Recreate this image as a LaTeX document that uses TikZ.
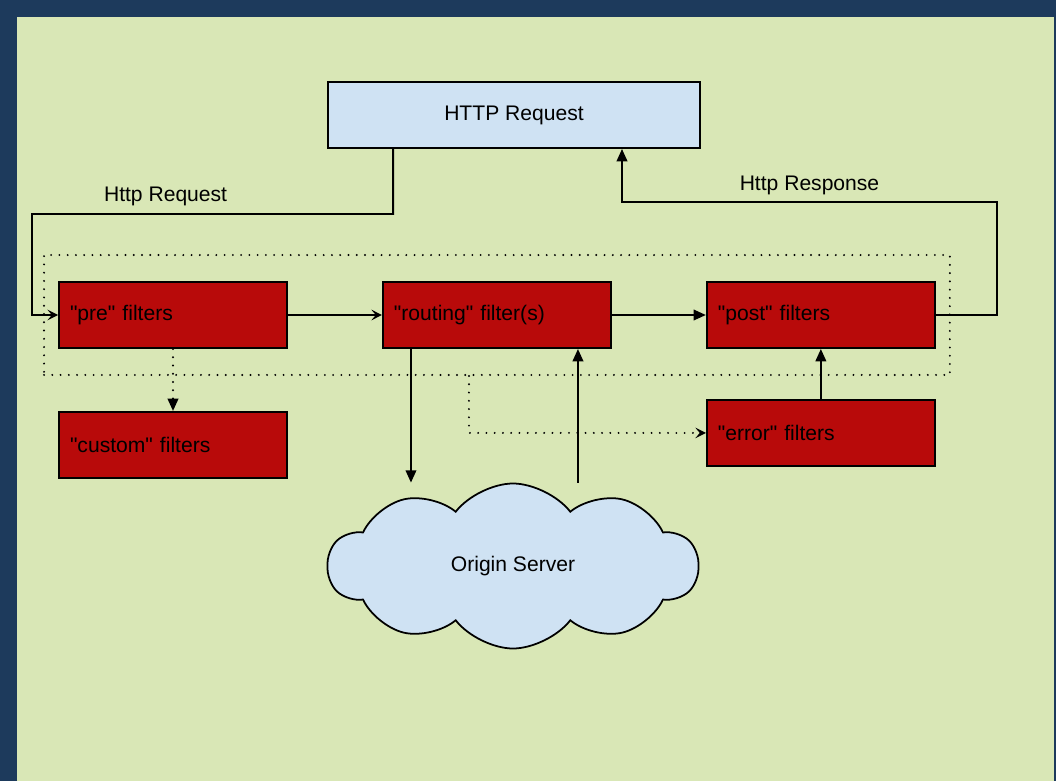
\documentclass[tikz,border=0pt]{standalone}
\usepackage{fontspec}
\setmainfont{Liberation Sans}
\usepackage{tikz}
\usetikzlibrary{positioning}
\usetikzlibrary{calc}
\usetikzlibrary{arrows.meta}
\usetikzlibrary{fit}
\usetikzlibrary{shapes.symbols}
\definecolor{slate}{RGB}{29,58,92}
\definecolor{paper}{RGB}{217,231,182}
\definecolor{sky}{RGB}{207,226,243}
\definecolor{blood}{RGB}{184,10,10}
\newcommand{\dq}{\textquotedbl}

\tikzset{
  filterbox/.style={draw=black, line width=1.1pt, fill=blood, minimum width=4.56cm, minimum height=1.32cm,
    text width=4.12cm, align=left, inner xsep=0.22cm},
  wire/.style={line width=1.1pt},
  dots/.style={line width=1.2pt, dash pattern=on 0pt off 4.7pt, line cap=round},
  full/.style={-{Triangle[length=7pt,width=6pt]}},
  barb/.style={-{Stealth[length=6pt,width=6pt,inset=2.5pt]}}
}

\begin{document}
\begin{tikzpicture}[font=\fontsize{12}{14}\selectfont]
        % background %
        \fill[slate] (0,0) rectangle (21.12,-15.62);
        \fill[paper] (0.34,-0.34) rectangle (21.08,-15.62);

        % nodes %
        \node[draw=black, line width=1.1pt, fill=sky, minimum width=7.44cm, minimum height=1.32cm] (http) at (10.28,-2.30) {HTTP Request};
        \node[filterbox] (pre) at (3.46,-6.30) {\dq pre\dq{} filters};
        \node[filterbox, right=1.88 of pre] (routing) {\dq routing\dq{} filter(s)};
        \node[filterbox, right=1.88 of routing] (post) {\dq post\dq{} filters};
        \node[filterbox, below=1.24 of pre] (custom) {\dq custom\dq{} filters};
        \node[filterbox, below=1.0 of post] (error) {\dq error\dq{} filters};
        \node[cloud, cloud puffs=10, cloud puff arc=105, aspect=2.4, draw=black, line width=1pt, fill=sky,
          minimum width=7.4cm, minimum height=3.3cm] (origin) at (10.26,-11.32) {Origin Server};
        \node[dots, draw, fit=(pre)(post), inner xsep=0.28cm, inner ysep=0.52cm] (chain) {};

        % helper points %
        \coordinate (reqturn) at (0.64,-4.28);
        \coordinate (respturn) at (19.94,-4.04);
        \coordinate (resptop) at (12.44,-4.04);
        \coordinate (down) at ($(routing.south west)+(0.58,0)$);
        \coordinate (up) at ($(routing.south west)+(3.92,0)$);
        \coordinate (fork) at ($(chain.south west)+(8.52,0)$);

        % edges %
        \draw[wire, barb] ($(http.south west)+(1.32,0)$) -- ++(0,-1.30)
          -- node[above=1pt, pos=0.63] {Http Request} (reqturn) |- (pre.west);
        \draw[wire, barb] (pre.east) -- (routing.west);
        \draw[wire, full] (routing.east) -- (post.west);
        \draw[wire, full] (post.east) -| (respturn)
          -- node[above=0pt] {Http Response} (resptop) -- (resptop |- http.south);
        \draw[wire, full] (down) -- (down |- origin.north);
        \draw[wire, full] (up |- origin.north) -- (up);
        \draw[wire, full] (error.north) -- (post.south);
        \draw[dots, full] (pre.south) -- (custom.north);
        \draw[dots, barb] (fork) |- (error.west);
      \end{tikzpicture}
\end{document}
